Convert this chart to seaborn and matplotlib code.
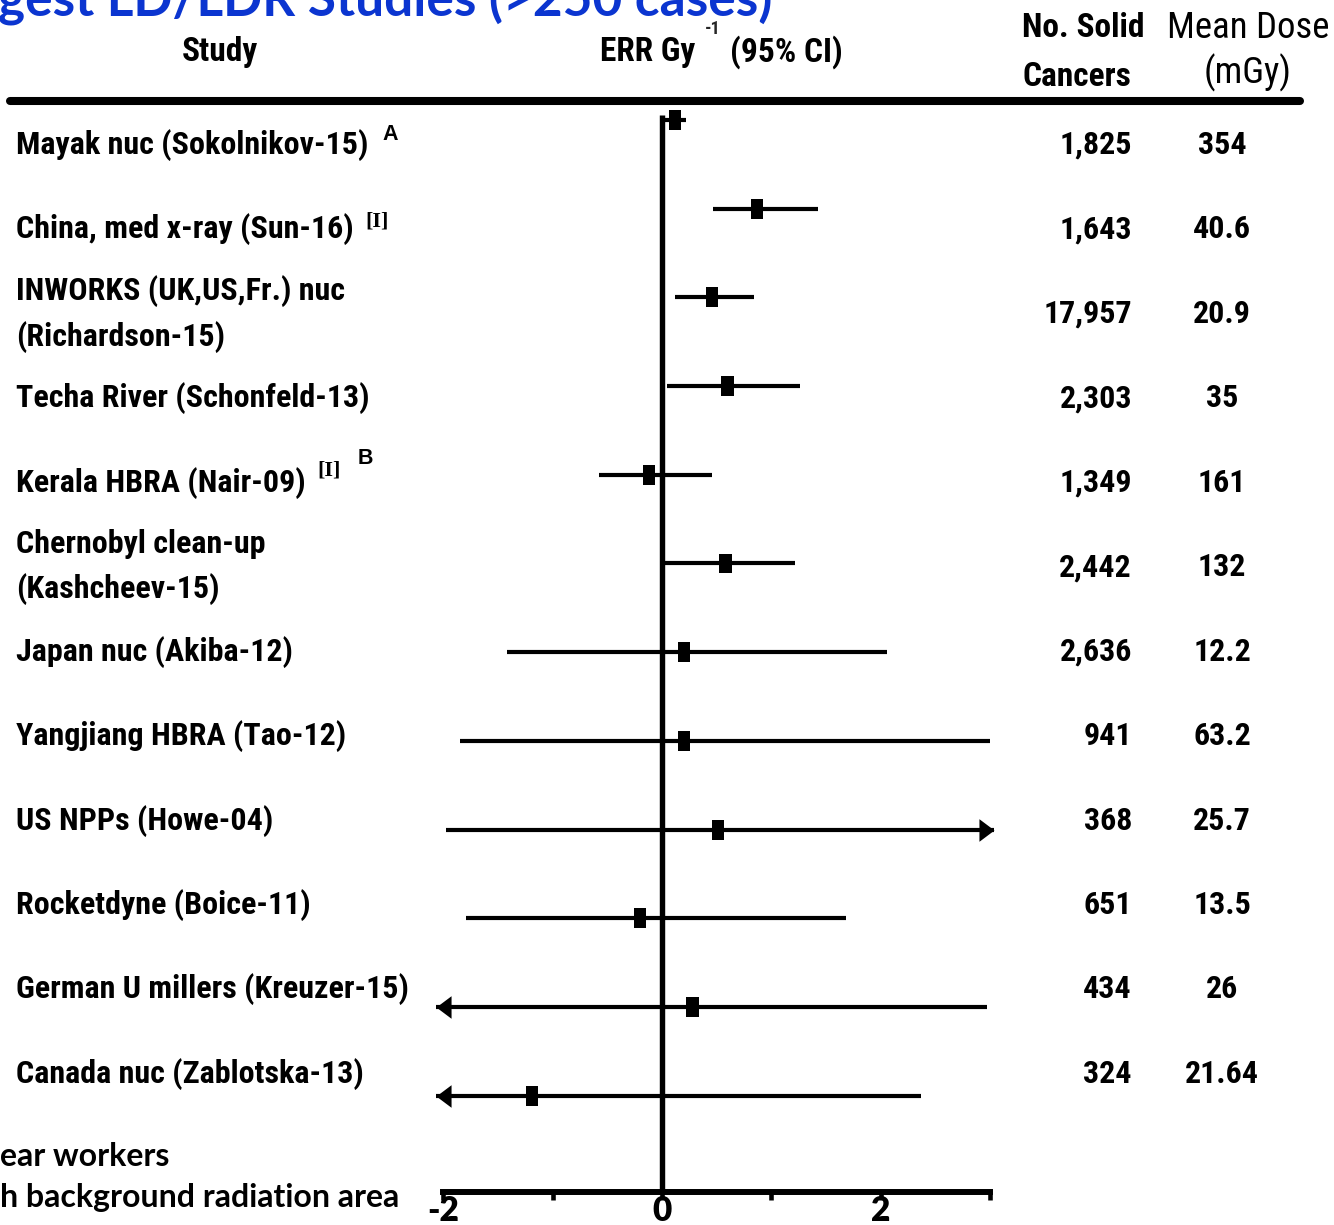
import matplotlib
matplotlib.use("Agg")
import matplotlib.pyplot as plt
from matplotlib.lines import Line2D
import seaborn as sns
import numpy as np
import pandas as pd

# ---------------- data ----------------
studies = [
    "Mayak nuc (Sokolnikov-15)",
    "China, med x-ray (Sun-16)",
    "INWORKS (UK,US,Fr.) nuc\n(Richardson-15)",
    "Techa River (Schonfeld-13)",
    "Kerala HBRA (Nair-09)",
    "Chernobyl clean-up\n(Kashcheev-15)",
    "Japan nuc (Akiba-12)",
    "Yangjiang HBRA (Tao-12)",
    "US NPPs (Howe-04)",
    "Rocketdyne (Boice-11)",
    "German U millers (Kreuzer-15)",
    "Canada nuc (Zablotska-13)",
]
err = [0.12, 0.87, 0.46, 0.60, -0.12, 0.58, 0.20, 0.20, 0.51, -0.20, 0.28, -1.19]
ci_low = [0.01, 0.47, 0.12, 0.05, -0.58, 0.0, -1.42, -1.85, -1.98, -1.79, -2.07, -2.07]
ci_high = [0.22, 1.43, 0.84, 1.26, 0.46, 1.22, 2.06, 3.00, 3.04, 1.68, 2.97, 2.37]
arrow_low = [False] * 10 + [True, True]
arrow_high = [False] * 8 + [True] + [False] * 3
n_cancers = ["1,825", "1,643", "17,957", "2,303", "1,349", "2,442",
             "2,636", "941", "368", "651", "434", "324"]
mean_dose = ["354", "40.6", "20.9", "35", "161", "132",
             "12.2", "63.2", "25.7", "13.5", "26", "21.64"]
# superscript notes: (row, text, serif?)
notes = [(0, "A", False), (1, "[I]", True), (4, "[I]", True), (4, "B", False)]
x_ticks = [-2, -1, 0, 1, 2, 3]
x_ticklabels = ["-2", "", "0", "", "2", ""]

df = pd.DataFrame({"study": studies, "err": err, "lo": ci_low, "hi": ci_high,
                   "row": np.arange(len(studies))})

# ---------------- figure ----------------
W, H = 1334, 1225
sns.set_theme(style="white")
plt.rcParams["font.family"] = ["Roboto Condensed", "DejaVu Sans"]
fig = plt.figure(figsize=(W / 100, H / 100), dpi=100)

def fx(x):
    return x / W

def fy(y):
    return 1 - y / H

left_px, right_px = 432.5, 1000.8
top_px, bot_px = 93.4, 1192
ax = fig.add_axes([fx(left_px), fy(bot_px), (right_px - left_px) / W, (bot_px - top_px) / H])
ax.set_xlim(-2.1, 3.1)
ax.set_ylim(12.086, -0.3)
ax.patch.set_alpha(0)

ax.hlines(df["row"], df["lo"], df["hi"], color="black", lw=3.0, zorder=2)
ax.vlines(0, -0.06, 12.086, color="black", lw=3.9, zorder=3)
rect = [(-0.62, -1), (0.62, -1), (0.62, 1), (-0.62, 1)]
sns.scatterplot(data=df, x="err", y="row", marker=rect, s=205, color="black",
                edgecolor="none", linewidth=0, ax=ax, zorder=4, legend=False)
tri_r = [(0, 0), (-1, 0.75), (-1, -0.75)]
tri_l = [(0, 0), (1, 0.75), (1, -0.75)]
for r in range(len(studies)):
    if arrow_high[r]:
        ax.scatter([ci_high[r]], [r], marker=tri_r, s=470, color="black",
                   linewidths=0, zorder=4, clip_on=False)
    if arrow_low[r]:
        ax.scatter([ci_low[r]], [r], marker=tri_l, s=470, color="black",
                   linewidths=0, zorder=4, clip_on=False)

for s in ["top", "right", "left"]:
    ax.spines[s].set_visible(False)
ax.spines["bottom"].set_linewidth(4.3)
ax.spines["bottom"].set_color("black")
ax.spines["bottom"].set_bounds(-2, 3)
ax.set_xticks(x_ticks)
ax.set_yticks([])
ax.set_xlabel("")
ax.set_ylabel("")
ax.tick_params(axis="x", direction="out", length=6, width=3.3, color="black",
               bottom=True, labelbottom=False)
# tick labels drawn at the tick positions on the x scale
xtr = ax.get_xaxis_transform()
for v, lbl in zip(x_ticks, x_ticklabels):
    if lbl:
        ax.text(v, -0.0264, lbl, transform=xtr, ha="center", va="baseline",
                fontsize=24, fontweight="heavy", color="black",
                family=["Lato", "DejaVu Sans"], clip_on=False)

# ---------------- texts ----------------
lab_kw = dict(fontsize=23, fontweight="bold", color="black", va="center")
label_artists = []
for i, s in enumerate(studies):
    y = 145 + i * 84.45
    t = fig.text(fx(16), fy(y), s, ha="left", linespacing=1.58, **lab_kw)
    label_artists.append(t)
    fig.text(fx(1132), fy(y), n_cancers[i], ha="right", **lab_kw)
    fig.text(fx(1222), fy(y), mean_dose[i], ha="center", **lab_kw)

sans_sup = dict(fontsize=15.5, fontweight="bold", color="black", va="center", ha="left",
                family=["Liberation Sans", "DejaVu Sans"])
serif_sup = dict(fontsize=16, fontweight="bold", color="black", va="center", ha="left",
                 family=["Liberation Serif", "DejaVu Serif"])
offsets = {(0, "A"): (14, 10), (1, "[I]"): (12, 8), (4, "[I]"): (12, 12), (4, "B"): (52, 24)}
for row, txt, serif in notes:
    dx, dy = offsets[(row, txt)]
    ax.annotate(txt, xy=(1, 0.5), xycoords=label_artists[row], xytext=(dx, dy),
                textcoords="offset pixels", annotation_clip=False,
                **(serif_sup if serif else sans_sup))

hdr_kw = dict(fontsize=24, fontweight="bold", color="black", va="center")
fig.text(fx(220), fy(52), "Study", ha="center", **hdr_kw)
fig.text(fx(600), fy(52), "ERR Gy", ha="left", **hdr_kw)
fig.text(fx(705), fy(29), "-1", ha="left", fontsize=13, fontweight="bold", va="center")
fig.text(fx(730), fy(52), "(95% CI)", ha="left", **hdr_kw)
fig.text(fx(1022), fy(28), "No. Solid", ha="left", **hdr_kw)
fig.text(fx(1022), fy(77), "Cancers", ha="left", **hdr_kw)
fig.text(fx(1167), fy(28), "Mean Dose", ha="left", fontsize=26.5, fontweight="normal",
         color="black", va="center")
fig.text(fx(1248), fy(73), "(mGy)", ha="center", fontsize=26.5, fontweight="normal",
         color="black", va="center")

fig.add_artist(Line2D([fx(10), fx(1300)], [fy(101), fy(101)], lw=5.8, color="black"))

fig.text(fx(-2), fy(16), "gest LD/LDR Studies (>250 cases)", ha="left", va="baseline",
         fontsize=37, fontweight="bold", color="#0b35d0", family=["Lato", "DejaVu Sans"])

fn_kw = dict(fontsize=23, fontweight="bold", color="black", va="center", ha="left",
             family=["Lato", "DejaVu Sans"])
fig.text(fx(0), fy(1156), "ear workers", **fn_kw)
fig.text(fx(0), fy(1198), "h background radiation area", **fn_kw)

fig.savefig("out.png", dpi=100)
